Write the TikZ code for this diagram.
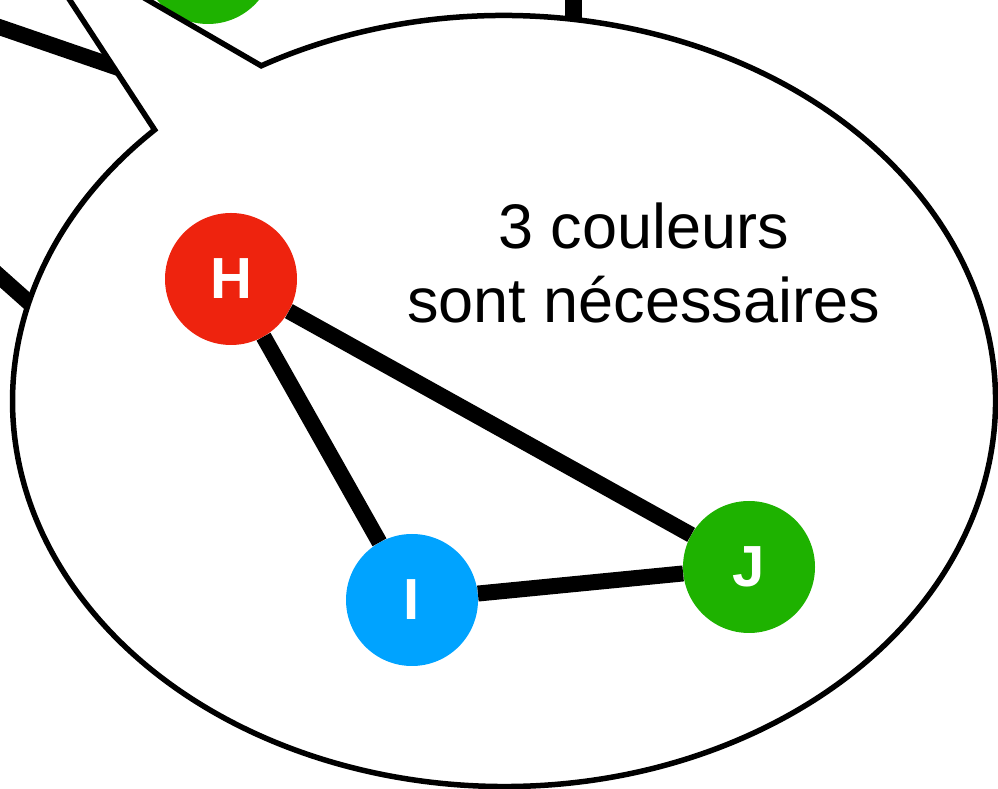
\documentclass[tikz,border=0pt]{standalone}
\usepackage{fontspec}
\setmainfont{Liberation Sans}
\usetikzlibrary{calc}
\definecolor{rouge}{RGB}{238,35,14}
\definecolor{bleu}{RGB}{0,163,255}
\definecolor{vert}{RGB}{30,178,0}

\begin{document}
\begin{tikzpicture}[
x=1pt, y=1pt,
sommet/.style={
  circle,
  minimum size=132pt,
  inner sep=0pt,
  text=white,
  font=\fontsize{58}{58}\selectfont\bfseries},
arete/.style={
  line width=16pt},
bulle/.style={
  draw,
  fill=white,
  line width=5.5pt,
  line join=miter}
]
\useasboundingbox (0,0) rectangle (998,789);
\clip (0,0) rectangle (998,789);
% reste du graphe, derriere la bulle
\draw[arete]
  (-30,772) coordinate (A1) --
  (200,693) coordinate (A2);
\draw[arete]
  (-30,539) coordinate (B1) --
  (80,441) coordinate (B2);
\draw[line width=17pt]
  (573,820) coordinate (C1) --
  (573,700) coordinate (C2);
\node[sommet, fill=vert] (G) at (208,831) {};
% la bulle
\coordinate (O) at (504,388);
\coordinate (P1) at ($ (O) + (135.3:491.5 and 385.5) $);
\coordinate (P2) at ($ (O) + (119.6:491.5 and 385.5) $);
\draw[bulle]
  (P1) -- (22,862) coordinate (pointe) -- (P2)
  arc[start angle=119.6, end angle=-224.7, x radius=491.5, y radius=385.5]
  -- cycle;
% le sous-graphe
\node[sommet, fill=rouge] (H) at (231,510) {H};
\node[sommet, fill=bleu] (I) at (412,189) {I};
\node[sommet, fill=vert] (J) at (749,222) {J};
\foreach \a/\b in {H/I,H/J,I/J}
  \draw[arete] (\a) -- (\b);
\node[align=center, inner sep=0pt,
  font=\fontsize{63}{74}\selectfont] (texte)
  at (643.5,526) {3 couleurs\\sont nécessaires};
\end{tikzpicture}
\end{document}
